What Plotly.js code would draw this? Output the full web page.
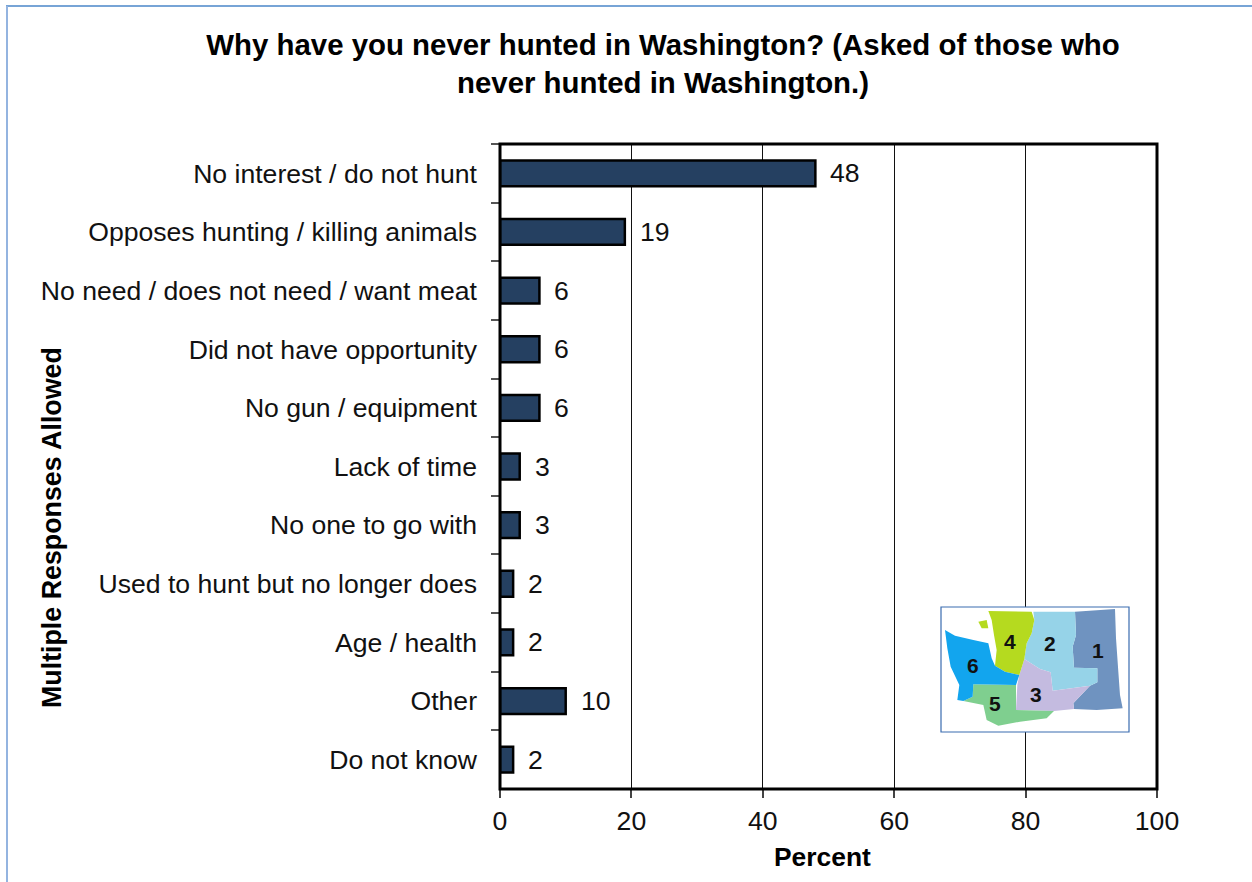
<!DOCTYPE html>
<html>
<head>
<meta charset="utf-8">
<script src="https://cdn.plot.ly/plotly-3.0.1.min.js"></script>
<style>html,body{margin:0;padding:0;background:#fff}#chart{width:1252px;height:882px}</style>
</head>
<body>
<div id="chart"></div>
<script>
// Survey responses, in display order from top to bottom
const reasons = [
  "No interest / do not hunt",
  "Opposes hunting / killing animals",
  "No need / does not need / want meat",
  "Did not have opportunity",
  "No gun / equipment",
  "Lack of time",
  "No one to go with",
  "Used to hunt but no longer does",
  "Age / health",
  "Other",
  "Do not know"
];
const percents = [48, 19, 6, 6, 6, 3, 3, 2, 2, 10, 2];
const percentTicks = [0, 20, 40, 60, 80, 100];

const W = 1252, H = 882;
const plot = {left: 500, right: 1157, top: 144, bottom: 789};
const fontFamily = "Liberation Sans, Arial, sans-serif";
const labelSize = 26.6;

// Pixel position to paper fraction
const px = x => (x - plot.left) / (plot.right - plot.left);
const py = y => (plot.bottom - y) / (plot.bottom - plot.top);

// Region key map, outlines given in the inset's own 3x units
const inset = (x, y) => [930 + x / 3, 595 + y / 3];
const regions = [
  {color: "#6f93c0", pts: [[435,50],[555,42],[558,130],[565,230],[570,300],[578,340],[500,345],[432,342],[430,325],[480,272],[502,262],[502,220],[432,218],[428,155],[438,120]]},
  {color: "#96d3e8", pts: [[310,50],[435,50],[438,120],[428,155],[432,218],[502,220],[502,262],[480,272],[368,287],[362,232],[330,222],[283,192],[290,145],[305,115],[313,75]]},
  {color: "#c4bbe0", pts: [[283,192],[330,222],[362,232],[368,287],[480,272],[430,325],[432,342],[372,348],[258,345],[262,270],[268,240]]},
  {color: "#b5da1f", pts: [[175,48],[305,50],[313,75],[305,115],[290,145],[283,192],[268,240],[225,230],[195,212],[200,165],[192,120],[185,75]]},
  {color: "#b5da1f", pts: [[145,80],[170,75],[175,100],[155,100]]},
  {color: "#7fcf8f", pts: [[130,268],[258,270],[258,345],[372,348],[350,370],[270,380],[205,392],[170,375],[160,330],[100,318],[128,305]]},
  {color: "#12a5ee", pts: [[45,105],[75,122],[130,135],[175,145],[185,190],[195,212],[225,230],[268,240],[258,270],[130,268],[128,305],[100,318],[82,315],[88,270],[62,215],[52,160]]}
];
const regionLabels = [
  {text: "1", at: [505,165]},
  {text: "2", at: [360,145]},
  {text: "3", at: [318,297]},
  {text: "4", at: [240,140]},
  {text: "5", at: [195,325]},
  {text: "6", at: [130,210]}
];

const regionPath = pts => "M" + pts.map(p => {
  const [x, y] = inset(p[0], p[1]);
  return px(x).toFixed(5) + "," + py(y).toFixed(5);
}).join("L") + "Z";

const paperLine = {xref: "paper", yref: "paper"};
const shapes = [
  // Sheet edges along the top and left
  {...paperLine, type: "line", x0: px(6), x1: px(1252), y0: py(6), y1: py(6),
   line: {color: "#4a86c8", width: 1.5}},
  {...paperLine, type: "line", x0: px(7), x1: px(7), y0: py(6), y1: py(882),
   line: {color: "#94b4e0", width: 2}},
  // Plot frame
  {...paperLine, type: "rect", x0: 0, x1: 1, y0: 0, y1: 1,
   line: {color: "#000", width: 3}, layer: "above"},
  // Inset frame
  {...paperLine, type: "rect", x0: px(941), x1: px(1129), y0: py(607), y1: py(732),
   fillcolor: "#ffffff", line: {color: "#3a6cb0", width: 1.2}, layer: "above"}
].concat(regions.map(r => ({
  ...paperLine, type: "path", path: regionPath(r.pts),
  fillcolor: r.color, line: {width: 0}, layer: "above"
})));

const annotations = percents.map((v, i) => ({
  x: v, y: reasons[i], xref: "x", yref: "y", text: String(v),
  showarrow: false, xanchor: "left", yanchor: "middle", xshift: 13,
  font: {family: fontFamily, size: labelSize, color: "#111"}
})).concat(regionLabels.map(l => {
  const [x, y] = inset(l.at[0], l.at[1]);
  return {...paperLine, x: px(x), y: py(y), xanchor: "center", yanchor: "middle",
    text: "<b>" + l.text + "</b>", showarrow: false,
    font: {family: fontFamily, size: 21, color: "#111"}};
})).concat([
  {...paperLine, x: px(52), y: py(528), xanchor: "center", yanchor: "middle",
   text: "<b>Multiple Responses Allowed</b>", textangle: -90, showarrow: false,
   font: {family: fontFamily, size: 26.8, color: "#000"}},
  {...paperLine, x: px(822), y: py(857), xanchor: "center", yanchor: "middle",
   text: "<b>Percent</b>", showarrow: false,
   font: {family: fontFamily, size: 26.4, color: "#000"}}
]);

const data = [{
  type: "bar", orientation: "h", y: reasons, x: percents,
  marker: {color: "#254061", line: {color: "#000", width: 2.5}},
  width: 0.44, hoverinfo: "x+y"
}];

const layout = {
  width: W, height: H, autosize: false,
  paper_bgcolor: "#fff", plot_bgcolor: "#fff",
  margin: {l: plot.left, r: W - plot.right, t: plot.top, b: H - plot.bottom, pad: 0},
  showlegend: false,
  title: {
    text: "<b>Why have you never hunted in Washington? (Asked of those who<br>never hunted in Washington.)</b>",
    x: 663 / W, xanchor: "center", y: 1 - 55 / H, yanchor: "middle",
    font: {family: fontFamily, size: 29.4, color: "#000"}
  },
  xaxis: {
    range: [0, 100], tickvals: percentTicks, ticktext: percentTicks.map(String), tickmode: "array",
    showgrid: true, gridcolor: "#111", gridwidth: 1, zeroline: false, showline: false,
    ticks: "outside", ticklen: 8, tickwidth: 1.5, tickcolor: "#444",
    tickfont: {family: fontFamily, size: labelSize, color: "#111"}
  },
  yaxis: {
    type: "category", categoryorder: "array", categoryarray: reasons, autorange: "reversed",
    showgrid: false, zeroline: false, showline: false,
    ticks: "outside", tickson: "boundaries", ticklen: 8, tickwidth: 1.5, tickcolor: "#555",
    ticklabelstandoff: 22,
    tickfont: {family: fontFamily, size: labelSize, color: "#111"}
  },
  shapes: shapes,
  annotations: annotations
};

Plotly.newPlot("chart", data, layout, {displayModeBar: false, responsive: false});
</script>
</body>
</html>
